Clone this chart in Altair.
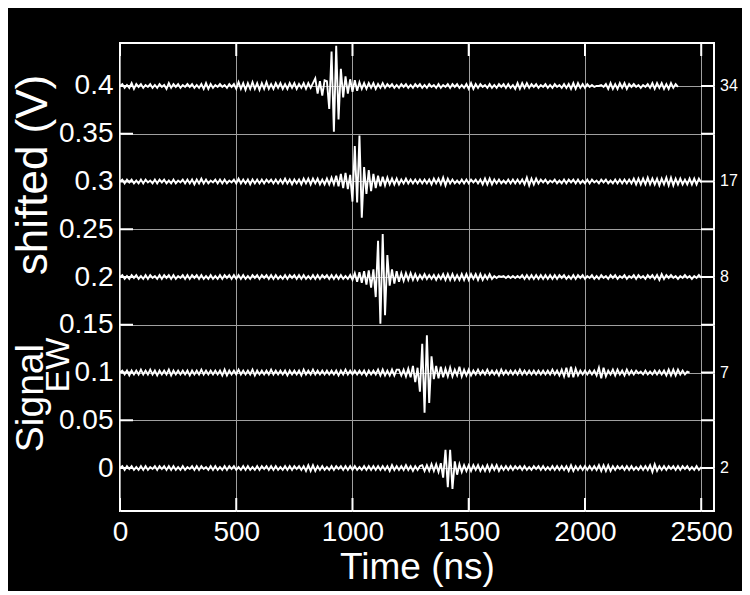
import altair as alt
import pandas as pd

FONT = "Liberation Sans, Arial, Helvetica, sans-serif"

# digitizer sample step (ns) and per-trace baseline offsets (V)
TIME_STEP_NS = 10
OFFSETS = [0.4, 0.3, 0.2, 0.1, 0.0]
LABELS = ["34", "17", "8", "7", "2"]

# signal deviation from each trace's offset, in mV, one sample every TIME_STEP_NS
T34 = [
    0, 2, -2, 1, -2, 3, -3, 2, -1, 2,
    -2, 1, -1, 2, -2, 1, -2, 2, -1, 1,
    -3, 3, -2, 2, -1, 2, -2, 1, -1, 2,
    -1, 2, -2, 1, -2, 2, -3, 3, -3, 2,
    -2, 1, -1, 2, -1, 1, -2, 2, -1, 2,
    -3, 4, -3, 3, -4, 3, -3, 4, -3, 3,
    -4, 3, -3, 4, -3, 2, -3, 3, -2, 3,
    -3, 2, -3, 3, -2, 3, -3, 2, -2, 3,
    -3, 3, -2, 3, 8, -8, 5, -10, 6, 5,
    -24, 36, -48, 42, -35, 18, -12, 10, -8, 7,
    -6, 6, -5, 4, -3, 3, -3, 3, -2, 3,
    -3, 2, -2, 3, -2, 2, -1, 2, -2, 1,
    -2, 2, -1, 2, -2, 1, -2, 2, -1, 2,
    -2, 1, -2, 2, -1, 1, -2, 2, -2, 1,
    -1, 2, -2, 2, -1, 2, -2, 1, -2, 2,
    -3, 3, -3, 2, -2, 2, -1, 1, -2, 2,
    -2, 1, -2, 2, -1, 2, -2, 2, -2, 1,
    -3, 3, -3, 3, -2, 3, -2, 2, -1, 2,
    -2, 1, -1, 2, -2, 1, -2, 2, -1, 1,
    -2, 2, -2, 2, -3, 3, -3, 3, -2, 2,
    -2, 2, -1, 1, -1, 0, 0, 1, -1, 2,
    -3, 3, -3, 2, -3, 3, -2, 3, -3, 2,
    -1, 2, -1, 1, -2, 1, -1, 2, -2, 3,
    -3, 3, -2, 3, -3, 2, -3, 3, -2, 2,
    -1,
]

T17 = [
    0, 2, -2, 2, -1, 2, -2, 1, -2, 2,
    -2, 2, -1, 1, -2, 2, -2, 2, -1, 2,
    -2, 1, -2, 2, -2, 1, -1, 2, -2, 2,
    -2, 2, -3, 2, -2, 3, -2, 2, -2, 1,
    -1, 2, -2, 2, -2, 2, -2, 1, -1, 2,
    -2, 3, -2, 2, -2, 2, -3, 2, -2, 2,
    -2, 2, -2, 2, -1, 2, -2, 2, -2, 2,
    -2, 3, -2, 2, -3, 2, -2, 2, -3, 3,
    -2, 3, -3, 3, -2, 3, -3, 2, -3, 3,
    -3, 4, -3, 6, -5, 8, -7, 9, -8, 7,
    -21, 37, -22, 48, -38, 15, -13, 12, -10, 8,
    -7, 6, -5, 5, -4, 4, -3, 3, -3, 3,
    -3, 2, -2, 3, -2, 2, -2, 2, -2, 2,
    -2, 2, -2, 2, -3, 3, -2, 3, -3, 4,
    -4, 3, -2, 2, -2, 1, -2, 2, -2, 2,
    -2, 2, -1, 2, -2, 2, -3, 3, -3, 3,
    -3, 2, -2, 2, -2, 1, -2, 2, -2, 2,
    -2, 2, -2, 2, -3, 4, -4, 3, -3, 3,
    -2, 2, -1, 2, -2, 1, -1, 2, -2, 1,
    -2, 2, -2, 2, -1, 2, -2, 2, -2, 1,
    -2, 2, -2, 2, -1, 1, -2, 2, -1, 2,
    -2, 1, -2, 2, -2, 2, -2, 2, -2, 2,
    -2, 3, -3, 3, -3, 3, -3, 4, -3, 3,
    -3, 3, -4, 3, -3, 4, -4, 4, -4, 3,
    -3, 3, -3, 2, -3, 3, -3, 3, -3, 3,
    -1,
]

T8 = [
    0, 2, -2, 1, -2, 2, -1, 2, -2, 1,
    -2, 2, -2, 2, -1, 1, -2, 2, -2, 2,
    -1, 2, -2, 2, -2, 1, -1, 2, -2, 2,
    -2, 2, -1, 2, -2, 2, -2, 1, -2, 2,
    -2, 1, -2, 2, -2, 2, -1, 2, -2, 2,
    -2, 2, -2, 2, -2, 1, -2, 2, -1, 2,
    -2, 2, -1, 2, -2, 2, -2, 2, -2, 1,
    -2, 2, -2, 2, -1, 2, -2, 2, -2, 2,
    -2, 1, -2, 2, -2, 2, -2, 2, -1, 2,
    -2, 2, -2, 2, -2, 2, -2, 1, -2, 2,
    -3, 4, -5, 5, -6, 6, -8, 7, -11, 8,
    -21, 38, -49, 45, -40, 23, -9, 8, -7, 6,
    -5, 4, -4, 4, -3, 4, -3, 3, -3, 2,
    -2, 3, -2, 2, -2, 2, -3, 2, -2, 3,
    -3, 3, -3, 3, -3, 2, -3, 3, -3, 3,
    -3, 3, -2, 3, -3, 3, -3, 2, -2, 3,
    -2, 1, -1, 1, 0, 1, -1, 1, -1, 1,
    -1, 1, -1, 2, -2, 2, -2, 2, -2, 2,
    -2, 2, -2, 2, -2, 2, -2, 2, -2, 2,
    -1, 2, -2, 1, -2, 2, -2, 2, -1, 2,
    -2, 1, -1, 2, -2, 1, -2, 2, -1, 1,
    -2, 2, -1, 2, -2, 1, -1, 2, -2, 1,
    -1, 2, -2, 2, -1, 1, -2, 2, -1, 2,
    -2, 2, -3, 3, -2, 2, -1, 2, -1, 1,
    -2, 1, -1, 2, -1, 1, -2, 1, -1, 2,
    -1,
]

T7 = [
    0, 2, -2, 2, -3, 2, -2, 2, -2, 3,
    -2, 2, -2, 3, -2, 2, -3, 2, -2, 2,
    -2, 3, -3, 2, -2, 2, -2, 2, -2, 2,
    -3, 2, -2, 2, -2, 3, -2, 2, -2, 2,
    -2, 2, -2, 2, -3, 3, -3, 2, -2, 2,
    -2, 3, -2, 2, -2, 2, -2, 3, -3, 2,
    -2, 2, -2, 2, -2, 3, -2, 2, -2, 2,
    -2, 2, -3, 2, -2, 2, -2, 2, -3, 3,
    -2, 2, -2, 3, -2, 2, -2, 2, -2, 2,
    -2, 2, -2, 2, -3, 2, -2, 3, -2, 2,
    -2, 2, -2, 2, -2, 2, -3, 2, -2, 2,
    -2, 3, -3, 3, -3, 2, -3, 3, -3, 3,
    3, -3, 3, -4, 4, -5, 7, -10, 5, -20,
    30, -42, 39, -32, 17, -7, 7, -6, 6, -5,
    4, -4, 5, -4, 3, -3, 6, -4, 3, -3,
    3, -3, 2, -2, 3, -2, 2, -2, 3, -2,
    2, -2, 2, -3, 3, -2, 2, -2, 2, -2,
    2, -2, 3, -2, 2, -2, 2, -2, 2, -2,
    2, -2, 2, -2, 2, -2, 3, -2, 2, -3,
    3, -4, 5, -5, 6, -5, 4, -3, 2, -2,
    2, -2, 2, -2, 2, -3, 5, -6, 5, -4,
    2, -2, 3, -3, 3, -2, 2, -3, 3, -2,
    2, -2, 2, -1, 1, -2, 2, -2, 1, -2,
    2, -2, 2, -2, 2, -3, 3, -3, 3, -3,
    3, -2, 2, -2, 1, 0,
]

T2 = [
    0, 2, -2, 2, -1, 2, -2, 1, -2, 2,
    -2, 2, -2, 1, -1, 2, -2, 2, -1, 2,
    -2, 2, -2, 2, -2, 1, -2, 2, -2, 1,
    -1, 2, -2, 2, -2, 2, -1, 1, -2, 2,
    -2, 2, -2, 1, -2, 2, -2, 2, -1, 2,
    -2, 1, -2, 2, -2, 2, -2, 1, -2, 2,
    -2, 2, -1, 2, -2, 2, -2, 2, -2, 1,
    -2, 2, -2, 2, -2, 2, -1, 2, -2, 2,
    -3, 3, -3, 3, -3, 2, -2, 2, -2, 1,
    -2, 2, -2, 2, -1, 2, -2, 2, -2, 2,
    -2, 2, -2, 1, -2, 2, -2, 2, -2, 2,
    -2, 2, -2, 2, -2, 2, -3, 3, -2, 2,
    -2, 2, -2, 3, -2, 2, -3, 2, -2, 2,
    3, -3, 3, -3, 4, -3, 4, -4, 5, -10,
    19, -20, 19, -22, 7, -7, 4, -4, 3, -3,
    3, -3, 3, -2, 3, -3, 2, -3, 3, -3,
    3, -2, 3, -3, 2, -2, 2, -2, 2, -2,
    2, -1, 2, -2, 2, -2, 1, -2, 2, -1,
    2, -2, 2, -2, 1, -2, 2, -2, 2, -2,
    2, -2, 2, -3, 3, -3, 2, -2, 2, -2,
    2, -2, 2, -2, 2, -2, 3, -3, 3, -3,
    3, -3, 2, -2, 2, -1, 2, -2, 2, -2,
    2, -2, 1, -2, 2, -2, 2, -2, 3, -4,
    4, -3, 2, -2, 2, -2, 2, -1, 2, -2,
    2, -2, 2, -1, 2, -2, 1, -2, 2, -2,
    1,
]

X_TICKS = [0, 500, 1000, 1500, 2000, 2500]
Y_TICKS = [0, 0.05, 0.1, 0.15, 0.2, 0.25, 0.3, 0.35, 0.4]
X_DOMAIN = [0, 2555]
Y_DOMAIN = [-0.045, 0.445]

rows = []
for lab, off, mv in zip(LABELS, OFFSETS, [T34, T17, T8, T7, T2]):
    for i, v in enumerate(mv):
        rows.append({"trace": lab, "t": i * TIME_STEP_NS, "v": off + v / 1000.0})
df = pd.DataFrame(rows)

W, H = 594, 468
GRID = "#a0a0a0"

xs = alt.Scale(domain=X_DOMAIN, nice=False, zero=False)
ys = alt.Scale(domain=Y_DOMAIN, nice=False, zero=False)

x_axis = alt.Axis(
    values=X_TICKS, format="d", grid=True, gridColor=GRID, gridWidth=1, ticks=False,
    domain=False, labelColor="white", labelFontSize=28, labelFont=FONT, labelPadding=7,
    labelFlush=False, labelOverlap=False,
    title="Time (ns)", titleColor="white", titleFontSize=37, titleFont=FONT,
    titleFontWeight="normal", titlePadding=3,
)
y_axis = alt.Axis(
    values=Y_TICKS, format="~g", grid=True, gridColor=GRID, gridWidth=1, ticks=False,
    domain=False, labelColor="white", labelFontSize=28, labelFont=FONT, labelPadding=7,
    labelFlush=False, labelOverlap=False, title=None,
)

X = lambda: alt.X("t:Q", scale=xs, axis=x_axis)
Y = lambda: alt.Y("v:Q", scale=ys, axis=y_axis)

lines = alt.Chart(df).mark_line(color="white", strokeWidth=1.9, clip=True).encode(
    x=X(), y=Y(), detail="trace:N", order="t:Q"
)

ytick_df = pd.DataFrame({"v": Y_TICKS})
xtick_df = pd.DataFrame({"t": X_TICKS})

left_ticks = alt.Chart(ytick_df).mark_rule(color="white", strokeWidth=2).encode(
    y=Y(), x=alt.value(0), x2=alt.value(13)
)
right_ticks = alt.Chart(ytick_df).mark_rule(color="white", strokeWidth=2).encode(
    y=Y(), x=alt.value(W - 13), x2=alt.value(W)
)
bottom_ticks = alt.Chart(xtick_df).mark_rule(color="white", strokeWidth=2).encode(
    x=X(), y=alt.value(H - 13), y2=alt.value(H)
)
top_ticks = alt.Chart(xtick_df).mark_rule(color="white", strokeWidth=2).encode(
    x=X(), y=alt.value(0), y2=alt.value(13)
)

lab_df = pd.DataFrame({"v": OFFSETS, "lab": LABELS})
right_labels = alt.Chart(lab_df).mark_text(
    align="left", baseline="middle", fontSize=16, color="white", font=FONT
).encode(y=Y(), x=alt.value(W + 6), text="lab:N")


def ytitle(txt, px, py, size):
    return alt.Chart(pd.DataFrame({"s": [txt]})).mark_text(
        angle=270, align="center", baseline="middle", fontSize=size, color="white", font=FONT
    ).encode(text="s:N", x=alt.value(px), y=alt.value(py))


t_signal = ytitle("Signal", -89, 355, 39)
t_ew = ytitle("EW", -61, 322, 34)
t_shift = ytitle("shifted (V)", -86, 132, 44)

chart = alt.layer(
    lines, left_ticks, right_ticks, bottom_ticks, top_ticks, right_labels,
    t_signal, t_ew, t_shift,
).properties(
    width=W, height=H,
    padding={"left": 112, "top": 35, "right": 28, "bottom": 80},
    autosize=alt.AutoSizeParams(type="none"),
    background="black",
).configure_view(stroke="white", strokeWidth=2)

chart.save("out.html", embed_options={"renderer": "svg", "actions": False})
